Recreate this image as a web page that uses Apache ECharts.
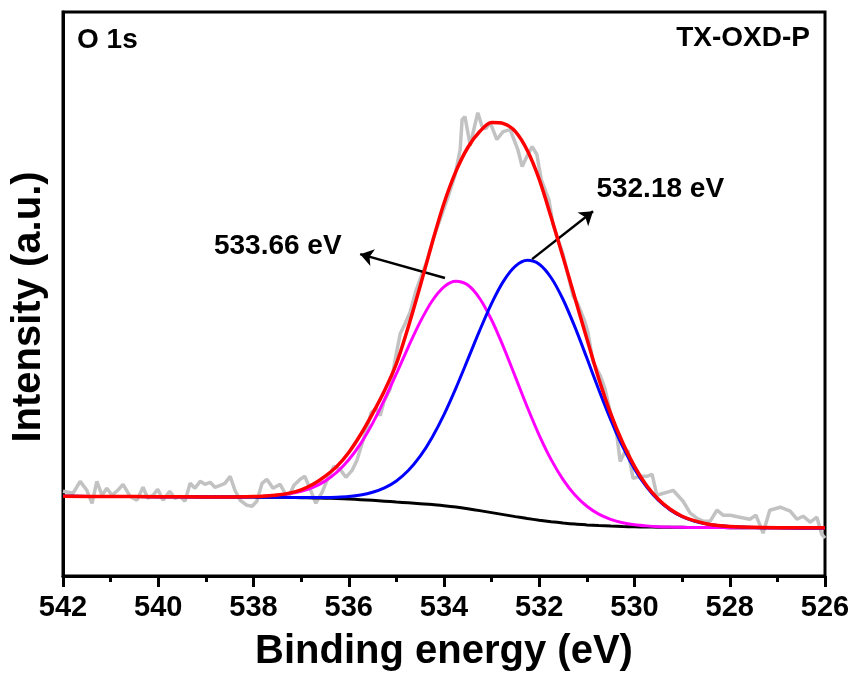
<!DOCTYPE html>
<html>
<head>
<meta charset="utf-8">
<script src="https://cdn.jsdelivr.net/npm/echarts@6/dist/echarts.min.js"></script>
<style>
html, body { margin: 0; padding: 0; background: #fff; }
#chart { width: 853px; height: 677px; }
</style>
</head>
<body>
<div id="chart"></div>
<script>
// raw spectrum (grey)
var rawE = [542.00,541.79,541.64,541.50,541.39,541.29,541.18,541.08,540.97,540.85,540.74,540.59,540.45,540.32,540.22,540.11,540.01,539.90,539.76,539.65,539.54,539.44,539.33,539.23,539.12,539.02,538.91,538.81,538.70,538.60,538.49,538.39,538.28,538.14,538.03,537.93,537.82,537.72,537.59,537.44,537.28,537.15,537.02,536.92,536.81,536.69,536.56,536.44,536.31,536.18,536.06,535.93,535.83,535.72,535.62,535.53,535.43,535.34,535.26,535.13,535.03,534.92,534.82,534.71,534.59,534.50,534.36,534.23,534.08,533.92,533.77,533.66,533.62,533.56,533.45,533.39,533.29,533.20,533.12,533.03,532.89,532.76,532.61,532.45,532.36,532.26,532.15,532.05,531.96,531.88,531.80,531.71,531.61,531.50,531.40,531.29,531.19,531.04,530.98,530.87,530.72,530.62,530.51,530.37,530.30,530.22,530.14,530.03,529.89,529.74,529.63,529.53,529.32,529.19,528.98,528.83,528.69,528.56,528.41,528.27,528.14,527.99,527.79,527.58,527.45,527.30,527.16,526.94,526.73,526.59,526.46,526.31,526.17,526.07,526.00];
var rawI = [85,83,95,86,73,95,81,88,81,86,92,80,76,89,78,81,87,76,85,78,80,75,93,88,95,92,94,89,91,93,100,86,76,71,70,75,93,97,88,92,78,91,97,100,87,73,84,98,110,107,99,106,116,133,148,164,168,161,175,188,216,243,253,265,286,298,316,338,358,380,402,428,458,461,432,445,465,451,449,455,438,446,448,428,411,421,431,423,398,388,378,353,338,323,303,281,273,255,245,215,201,188,165,141,115,123,126,98,100,100,102,81,84,86,75,63,58,55,55,66,61,61,59,57,61,43,66,69,65,57,60,54,59,42,38];

// fitted curves
var fitE = [542,541,540,539,538.5,538,537.75,537.5,537.25,537,536.75,536.5,536.25,536,535.75,535.5,535.25,535,534.75,534.5,534.25,534,533.75,533.5,533.25,533,532.75,532.5,532.25,532,531.75,531.5,531.25,531,530.75,530.5,530.25,530,529.75,529.5,529.25,529,528.75,528.5,528.25,528,527.5,527,526];
var bgLine = [80,79.8,79.6,79.4,79.3,79.2,79.1,79.0,78.8,78.6,78.4,78.1,77.7,77.2,76.6,75.9,75.1,74.2,73.4,72.6,71.8,70.6,69.2,67.5,65.6,63.6,61.6,59.6,57.7,56.0,54.5,53.2,52.1,51.3,50.6,50.1,49.7,49.4,49.2,49.0,48.9,48.8,48.7,48.6,48.6,48.5,48.4,48.3,48.2];
var peak53366 = [80,79.8,79.6,79.4,79.4,79.7,80.1,81.0,82.4,84.9,89.0,95.2,104.2,116.7,132.9,153.2,176.9,203.0,229.8,255.0,276.0,290.2,295.8,292.0,278.5,256.9,229.7,199.6,169.3,141.2,116.8,96.8,81.3,70.0,62.1,56.9,53.5,51.5,50.3,49.5,49.1,48.9,48.7,48.6,48.6,48.5,48.4,48.3,48.2];
var peak53218 = [80,79.8,79.6,79.4,79.3,79.2,79.1,79.0,78.9,78.8,78.8,78.8,79.1,79.8,81.3,84.0,88.4,95.4,105.8,120.2,139.1,162.0,188.6,217.4,246.5,273.6,295.9,310.9,316.8,312.9,299.3,277.5,249.7,218.7,186.9,156.8,130.0,107.5,89.6,76.0,66.3,59.5,55.1,52.3,50.6,49.6,48.6,48.3,48.2];
var envelope = [80,79.8,79.6,79.4,79.4,79.8,80.4,81.4,83.2,86.5,92,100,110,124,142,163,186,213,250,291,334,374,406,430,446,455,454,446,427,398,360,320,279,238,198,163,134,110,91,77,67,60,55.5,52.5,50.7,49.7,48.8,48.5,48.3];

var xTicks = [542,540,538,536,534,532,530,528,526];

function pairs(xs, ys) {
  return xs.map(function (x, i) { return [x, ys[i]]; });
}

var font = 'Liberation Sans, Arial, sans-serif';
var chart = echarts.init(document.getElementById('chart'));

var option = {
  animation: false,
  backgroundColor: '#fff',
  title: [
    { text: 'O 1s', left: 72, top: 21, textStyle: { fontFamily: font, fontSize: 28, fontWeight: 'bold', color: '#000' } },
    { text: 'TX-OXD-P', right: 38, top: 19, textStyle: { fontFamily: font, fontSize: 28, fontWeight: 'bold', color: '#000' } }
  ],
  grid: {
    left: 63, right: 28, top: 12, bottom: 99,
    show: true, borderColor: '#000', borderWidth: 3, backgroundColor: 'transparent'
  },
  xAxis: {
    type: 'value',
    inverse: true,
    min: 526, max: 542, interval: 2,
    name: 'Binding energy (eV)',
    nameLocation: 'middle',
    nameGap: 56,
    nameTextStyle: { fontFamily: font, fontSize: 40, fontWeight: 'bold', color: '#000' },
    axisLine: { show: true, lineStyle: { color: '#000', width: 3 } },
    axisTick: { show: true, inside: false, length: 11, lineStyle: { color: '#000', width: 3 } },
    minorTick: { show: true, splitNumber: 2, length: 6, lineStyle: { color: '#000', width: 3 } },
    axisLabel: {
      margin: 17, fontFamily: font, fontSize: 29, fontWeight: 'bold', color: '#000',
      formatter: function (v) { return xTicks.indexOf(v) >= 0 ? String(v) : ''; }
    },
    splitLine: { show: false }
  },
  yAxis: {
    type: 'value',
    min: 0, max: 566,
    name: 'Intensity (a.u.)',
    nameLocation: 'middle',
    nameGap: 14,
    nameTextStyle: { fontFamily: font, fontSize: 40, fontWeight: 'bold', color: '#000', padding: [0, 0, 0, -26] },
    axisLine: { show: true, lineStyle: { color: '#000', width: 3 } },
    axisTick: { show: false },
    axisLabel: { show: false },
    splitLine: { show: false }
  },
  series: [
    {
      name: 'raw', type: 'line', data: pairs(rawE, rawI), showSymbol: false,
      lineStyle: { color: '#c2c2c2', width: 3.5 }, z: 1
    },
    {
      name: 'background', type: 'line', data: pairs(fitE, bgLine), showSymbol: false, smooth: 0.3,
      lineStyle: { color: '#000', width: 3 }, z: 2
    },
    {
      name: '533.66 eV', type: 'line', data: pairs(fitE, peak53366), showSymbol: false, smooth: 0.3,
      lineStyle: { color: '#ff00ff', width: 3 }, z: 3
    },
    {
      name: '532.18 eV', type: 'line', data: pairs(fitE, peak53218), showSymbol: false, smooth: 0.3,
      lineStyle: { color: '#0000ff', width: 3 }, z: 4
    },
    {
      name: 'envelope', type: 'line', data: pairs(fitE, envelope), showSymbol: false, smooth: 0.3,
      lineStyle: { color: '#ff0000', width: 3.5 }, z: 5,
      markLine: {
        silent: true,
        symbol: ['none', 'arrow'],
        symbolSize: 13,
        lineStyle: { color: '#000', width: 2.5, type: 'solid' },
        itemStyle: { color: '#000' },
        label: { show: false },
        data: [
          [{ coord: [533.98, 299] }, { coord: [535.76, 323] }],
          [{ coord: [532.15, 318] }, { coord: [530.87, 366] }]
        ]
      },
      markPoint: {
        silent: true,
        symbol: 'circle', symbolSize: 0,
        label: { show: true, position: 'inside', fontFamily: font, fontSize: 28, fontWeight: 'bold', color: '#000', formatter: '{b}' },
        data: [
          { name: '533.66 eV', coord: [537.49, 331] },
          { name: '532.18 eV', coord: [529.46, 388] }
        ]
      }
    }
  ]
};

chart.setOption(option);
</script>
</body>
</html>
